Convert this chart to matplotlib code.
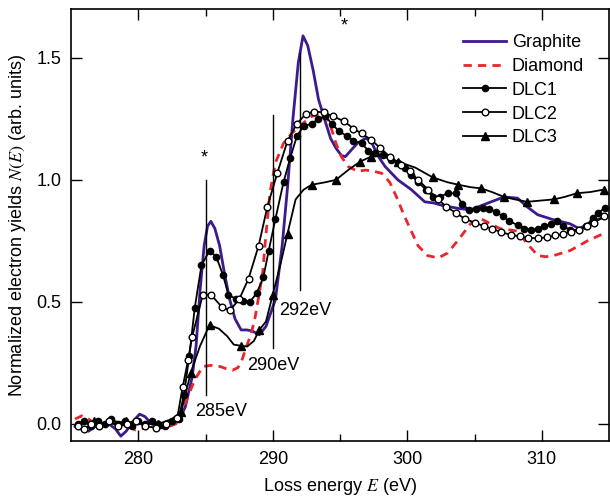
import matplotlib
matplotlib.use("Agg")
import matplotlib.pyplot as plt

plt.rcParams['font.family'] = ['Liberation Sans', 'DejaVu Sans']
plt.rcParams['mathtext.fontset'] = 'stix'

# ---------------- data ----------------
graphite_x = [275.3, 275.8, 276.3, 276.8, 277.3, 277.8, 278.3, 278.7, 279.1, 279.6, 280.1, 280.5,
              281.0, 281.5, 282.0, 282.5, 283.0, 283.5, 284.0, 284.3, 284.6, 284.9, 285.15, 285.4,
              285.7, 286.05, 286.4, 286.8, 287.2, 287.65, 288.1, 288.5, 289.0, 289.5, 290.2, 290.7,
              291.1, 291.5, 291.9, 292.25, 292.6, 293.0, 293.4, 293.9, 294.3, 294.7, 295.1, 295.4,
              295.8, 296.3, 296.9, 297.3, 297.8, 298.35, 299.3, 300.3, 301.3, 302.0, 302.6, 303.8,
              304.7, 306.0, 307.2, 308.2, 308.9, 309.7, 310.9, 312.1, 312.8, 313.8, 314.8]
graphite_y = [-0.01, -0.02, -0.03, -0.01, 0.00, 0.00, -0.02, -0.05, -0.03, 0.01, 0.04, 0.03,
              0.00, -0.01, 0.00, 0.00, 0.01, 0.07, 0.19, 0.32, 0.55, 0.73, 0.81, 0.83,
              0.80, 0.73, 0.62, 0.51, 0.43, 0.385, 0.385, 0.38, 0.365, 0.40, 0.51, 0.73,
              0.97, 1.25, 1.48, 1.59, 1.55, 1.45, 1.33, 1.24, 1.17, 1.13, 1.10, 1.095,
              1.12, 1.15, 1.17, 1.16, 1.10, 1.055, 1.00, 0.96, 0.91, 0.905, 0.895, 0.883,
              0.877, 0.905, 0.93, 0.925, 0.89, 0.857, 0.836, 0.82, 0.80, 0.83, 0.85]

diamond_x = [275.3, 275.8, 276.3, 276.8, 277.3, 277.8, 278.3, 278.8, 279.3, 279.8, 280.3, 280.8,
             281.3, 281.8, 282.3, 282.8, 283.2, 283.6, 284.2, 284.8, 285.4, 286.1, 286.6, 287.0,
             287.4, 287.7, 288.0, 288.4, 288.7, 288.95, 289.25, 289.5, 289.8, 290.2, 290.8, 291.4,
             292.2, 292.9, 293.5, 293.9, 294.3, 294.7, 295.1, 295.6, 296.3, 296.9, 297.5, 298.1,
             298.7, 299.2, 299.8, 300.8, 301.5, 302.3, 303.0, 303.8, 304.7, 305.5, 306.2, 306.9,
             307.6, 308.2, 308.9, 309.7, 310.3, 310.9, 312.1, 313.4, 314.6]
diamond_y = [0.02, 0.033, 0.02, 0.00, -0.005, 0.00, 0.01, 0.00, -0.01, -0.025, -0.02, -0.01,
             0.00, 0.00, -0.01, 0.00, 0.03, 0.10, 0.18, 0.235, 0.24, 0.235, 0.225, 0.22,
             0.23, 0.26, 0.31, 0.37, 0.44, 0.52, 0.62, 0.78, 0.95, 1.07, 1.15, 1.19,
             1.23, 1.26, 1.27, 1.27, 1.22, 1.15, 1.095, 1.055, 1.035, 1.04, 1.035, 1.027,
             0.99, 0.93, 0.85, 0.73, 0.69, 0.68, 0.70, 0.754, 0.82, 0.84, 0.82, 0.80,
             0.795, 0.79, 0.74, 0.69, 0.685, 0.69, 0.71, 0.75, 0.78]

dlc1_x = [275.5, 276.0, 276.5, 277.0, 277.5, 278.0, 278.5, 279.0, 279.5, 280.0, 280.5, 281.0,
          281.5, 282.0, 282.5, 283.0, 283.4, 283.8, 284.2, 284.7, 285.3, 285.8, 286.3, 286.7,
          287.3, 287.8, 288.3, 288.8, 289.3, 289.7, 290.2, 290.8, 291.3, 291.8, 292.3, 292.9,
          293.4, 293.9, 294.4, 294.9, 295.5, 296.0, 296.6, 297.1, 297.6, 298.2, 298.8, 299.3,
          299.8, 300.3, 300.8, 301.4, 301.9, 302.4, 303.0, 303.6, 304.1, 304.6, 305.1, 305.6,
          306.1, 306.6, 307.1, 307.6, 308.2, 308.7, 309.2, 309.7, 310.2, 310.7, 311.1, 311.6,
          312.1, 312.8, 313.3, 313.8, 314.2, 314.7]
dlc1_y = [0.00, 0.01, -0.01, 0.01, 0.00, 0.02, 0.00, 0.01, -0.01, 0.01, 0.00, 0.01,
          0.00, -0.01, 0.01, 0.02, 0.12, 0.28, 0.475, 0.65, 0.71, 0.685, 0.61, 0.53,
          0.51, 0.505, 0.50, 0.535, 0.60, 0.71, 0.84, 0.99, 1.09, 1.18, 1.22, 1.23,
          1.25, 1.26, 1.23, 1.20, 1.18, 1.16, 1.15, 1.12, 1.11, 1.10, 1.08, 1.07,
          1.05, 1.02, 0.99, 0.96, 0.93, 0.93, 0.945, 0.945, 0.90, 0.877, 0.88, 0.885,
          0.88, 0.87, 0.85, 0.83, 0.815, 0.80, 0.795, 0.80, 0.81, 0.82, 0.83, 0.81,
          0.795, 0.795, 0.81, 0.845, 0.865, 0.885]

dlc2_x = [275.5, 276.0, 276.5, 277.1, 277.8, 278.5, 279.2, 279.8, 280.5, 281.3, 282.1, 282.9,
          283.3, 283.7, 284.0, 284.8, 285.4, 286.2, 286.8, 287.5, 288.2, 288.95, 289.6, 290.35,
          291.1, 291.8, 292.45, 293.1, 293.8, 294.5, 295.3, 296.0, 296.6, 297.3, 298.0, 298.7,
          299.5, 300.2, 300.8, 301.55, 302.3, 302.9, 303.6, 304.3, 305.0, 305.7, 306.3, 307.0,
          307.7, 308.4, 309.0, 309.7, 310.4, 311.0, 311.6, 312.2, 312.8, 313.4, 313.9, 314.6]
dlc2_y = [-0.01, -0.02, 0.00, -0.01, 0.01, -0.01, 0.00, 0.01, -0.01, -0.015, 0.00, 0.025,
          0.15, 0.26, 0.355, 0.53, 0.53, 0.48, 0.465, 0.51, 0.595, 0.73, 0.89, 1.03,
          1.16, 1.23, 1.27, 1.28, 1.276, 1.26, 1.24, 1.21, 1.19, 1.165, 1.13, 1.095,
          1.06, 1.035, 1.00, 0.96, 0.92, 0.89, 0.865, 0.84, 0.825, 0.81, 0.80, 0.785,
          0.775, 0.768, 0.763, 0.76, 0.765, 0.772, 0.778, 0.787, 0.795, 0.81, 0.825, 0.85]

dlc3_x = [275.5, 276.7, 277.9, 279.1, 280.3, 281.5, 282.5, 283.2, 283.9, 284.6, 285.3, 286.0,
          286.6, 287.1, 287.65, 288.1, 288.6, 289.0, 289.5, 290.0, 290.6, 291.1, 291.7, 292.3,
          292.9, 293.9, 294.7, 295.6, 296.5, 297.3, 298.3, 299.3, 300.6, 301.9, 303.0, 303.8,
          304.7, 305.5, 306.3, 307.2, 308.0, 308.9, 309.9, 310.9, 311.7, 312.6, 313.6, 314.6]
dlc3_y = [0.00, 0.01, 0.00, 0.01, 0.00, 0.00, 0.02, 0.05, 0.21, 0.32, 0.405, 0.39,
          0.36, 0.325, 0.32, 0.317, 0.34, 0.385, 0.42, 0.53, 0.66, 0.78, 0.92, 0.96,
          0.98, 0.99, 1.00, 1.04, 1.075, 1.095, 1.10, 1.075, 1.05, 1.01, 0.99, 0.98,
          0.97, 0.965, 0.95, 0.93, 0.92, 0.91, 0.915, 0.92, 0.93, 0.945, 0.95, 0.96]
dlc3_marks = [1, 3, 5, 7, 8, 10, 14, 17, 19, 21, 24, 26, 28, 29, 31, 33, 35, 37, 39, 41, 43, 45, 47]

peak_x = [285, 290, 292]
peak_top = [1.00, 1.266, 1.52]
peak_bottom = [0.12, 0.31, 0.55]
peak_labels = ['285eV', '290eV', '292eV']
peak_label_pos = [(284.2, 0.05), (288.1, 0.24), (290.5, 0.465)]
star_pos = [(284.9, 1.09), (295.35, 1.63)]

# ---------------- figure ----------------
fig = plt.figure(figsize=(6.1, 4.97), dpi=100)
ax = fig.add_axes([71/610, 1-441/497, (609-71)/610, (441-9)/497])

ax.plot(graphite_x, graphite_y, color='#3d1a8e', lw=2.0, label='Graphite', zorder=3)
ax.plot(diamond_x, diamond_y, color='#e8262b', lw=2.0, ls=(0, (3, 2.2)), label='Diamond', zorder=3)
ax.plot(dlc1_x, dlc1_y, color='black', lw=1.3, marker='o', ms=4.5, mfc='black', mec='black',
        label='DLC1', zorder=4)
ax.plot(dlc2_x, dlc2_y, color='black', lw=1.3, marker='o', ms=4.8, mfc='white', mec='black',
        mew=1.0, label='DLC2', zorder=5)
ax.plot(dlc3_x, dlc3_y, color='black', lw=1.3, marker='^', ms=5.5, mfc='black', mec='black',
        markevery=dlc3_marks, label='DLC3', zorder=4)

for xv, yt, yb in zip(peak_x, peak_top, peak_bottom):
    ax.plot([xv, xv], [yb, yt], color='black', lw=1.0, zorder=6)
for lab, (lx, ly) in zip(peak_labels, peak_label_pos):
    ax.text(lx, ly, lab, fontsize=13, ha='left', va='center', zorder=7)
for sx, sy in star_pos:
    ax.text(sx, sy, '*', fontsize=13, ha='center', va='center')

ax.set_xlim(275, 315)
ax.set_ylim(-0.07, 1.70)
ax.set_xticks([280, 290, 300, 310])
ax.set_xticks([285, 295, 305], minor=True)
ax.set_yticks([0.0, 0.5, 1.0, 1.5])
ax.set_yticklabels(['0.0', '0.5', '1.0', '1.5'])
ax.tick_params(which='both', direction='in', top=True, right=True, labelsize=13, width=1.0)
ax.tick_params(which='major', length=8, pad=7)
ax.tick_params(which='minor', length=5)
for sp in ax.spines.values():
    sp.set_linewidth(1.2)

ax.set_xlabel('Loss energy $E$ (eV)', fontsize=13, labelpad=6)
ax.set_ylabel('Normalized electron yields $N(E)$ (arb. units)', fontsize=13, labelpad=6)

leg = ax.legend(loc='upper left', bbox_to_anchor=(463/610, 1-34/497), bbox_transform=fig.transFigure,
                frameon=False, fontsize=13, handlelength=2.4, handletextpad=0.3,
                labelspacing=0.38, borderpad=0, borderaxespad=0)

fig.savefig('out.png', dpi=100)
